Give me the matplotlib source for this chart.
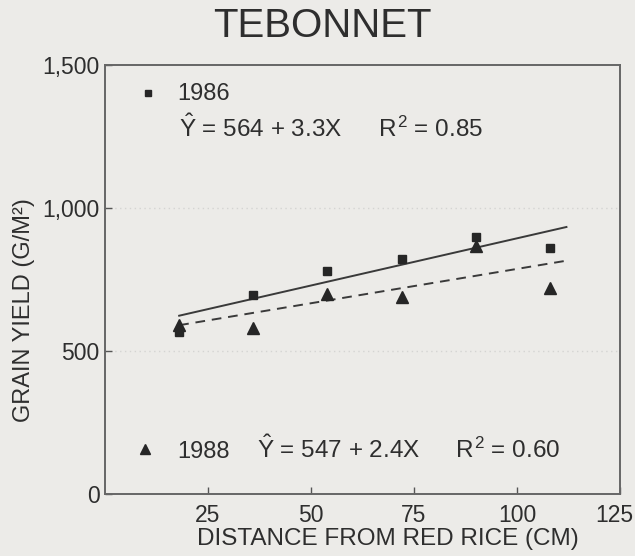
import matplotlib
matplotlib.use("Agg")
import matplotlib.pyplot as plt
import matplotlib.transforms as mtransforms
import numpy as np

plt.rcParams['font.family'] = ['Liberation Sans', 'DejaVu Sans']
plt.rcParams['mathtext.fontset'] = 'custom'
plt.rcParams['mathtext.rm'] = 'Liberation Sans'
plt.rcParams['mathtext.it'] = 'Liberation Sans'
plt.rcParams['mathtext.bf'] = 'Liberation Sans:bold'

# Data
distance = [18, 36, 54, 72, 90, 108]
yield_1986 = [566, 696, 781, 823, 898, 859]
yield_1988 = [590, 580, 700, 690, 866, 720]
fit_1986 = (564, 3.3)   # intercept, slope
fit_1988 = (547, 2.4)
fit_range = [18, 112]
x_ticks = [25, 50, 75, 100, 125]
y_ticks = [0, 500, 1000, 1500]
y_ticklabels = ['0', '500', '1,000', '1,500']

bg = '#ecebe8'
ink = '#262626'
txt = '#2e2e2e'

fig = plt.figure(figsize=(6.35, 5.56), dpi=100, facecolor=bg)
ax = fig.add_axes([105 / 635, 62 / 556, 515 / 635, 429 / 556], facecolor=bg)

ax.set_xlim(0, 125)
ax.set_ylim(0, 1500)

for yv in [500, 1000]:
    ax.axhline(yv, color='#d4d4d2', lw=1.0, ls=(0, (1, 2.5)), zorder=0)

xf = np.array(fit_range, dtype=float)
ax.plot(xf, fit_1986[0] + fit_1986[1] * xf, color='#3a3a3a', lw=1.4, ls='-', zorder=2)
ax.plot(xf, fit_1988[0] + fit_1988[1] * xf, color='#3a3a3a', lw=1.4, ls=(0, (5, 3.5)), zorder=2)

ax.plot(distance, yield_1986, ls='none', marker='s', ms=5.5, color=ink, zorder=3)
ax.plot(distance, yield_1988, ls='none', marker='^', ms=8.5, color=ink, zorder=3)

ax.set_xticks(x_ticks)
ax.set_yticks(y_ticks)
ax.set_yticklabels(y_ticklabels)
ax.tick_params(direction='in', length=5, width=1, colors='#555555', labelcolor=txt,
               labelsize=16.5)
ax.tick_params(axis='x', pad=7)
ax.tick_params(axis='y', pad=4)

# shift the last x tick label slightly left so it stays inside the figure
last = ax.get_xticklabels()[-1]
last.set_transform(last.get_transform() +
                   mtransforms.ScaledTranslation(-6 / 100, 0, fig.dpi_scale_trans))

for s in ax.spines.values():
    s.set_color('#666666')
    s.set_linewidth(1.4)

fig.text(387.5 / 635, 1 - 539.5 / 556, 'DISTANCE FROM RED RICE (CM)', fontsize=17.5,
         color=txt, ha='center', va='center')
fig.text(24 / 635, 1 - 310 / 556, 'GRAIN YIELD (G/M²)', fontsize=17, color=txt,
         ha='center', va='center', rotation=90)

fig.text(322.5 / 635, 1 - 26 / 556, 'TEBONNET', ha='center', va='center', fontsize=29, color=txt)

# Annotations (legend-like)
ax.plot([10.4], [1402], ls='none', marker='s', ms=4.8, color=ink, clip_on=False)
ax.text(17.5, 1378, '1986', fontsize=17, color=txt, va='baseline', ha='left')
ax.text(18.0, 1250, r'$\hat{Y}$ = 564 + 3.3X', fontsize=17.5, color=txt, va='baseline', ha='left')
ax.text(66.3, 1250, r'$R^2$ = 0.85', fontsize=17.5, color=txt, va='baseline', ha='left')

ax.plot([9.7], [158], ls='none', marker='^', ms=7.5, color=ink, clip_on=False)
ax.text(17.5, 126, '1988', fontsize=17, color=txt, va='baseline', ha='left')
ax.text(36.9, 126, r'$\hat{Y}$ = 547 + 2.4X', fontsize=17.5, color=txt, va='baseline', ha='left')
ax.text(85.0, 126, r'$R^2$ = 0.60', fontsize=17.5, color=txt, va='baseline', ha='left')

fig.savefig('out.png', dpi=100, facecolor=bg)
